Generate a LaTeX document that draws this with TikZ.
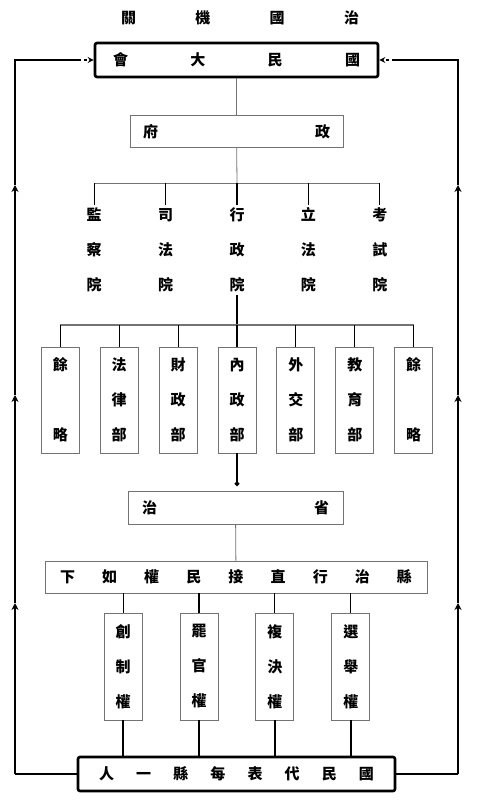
\documentclass[tikz,border=0pt]{standalone}
\usepackage{fontspec}
\newfontfamily\cjk{Noto Sans CJK TC}
\usetikzlibrary{positioning, arrows.meta}

\begin{document}
\begin{tikzpicture}[x=1pt, y=-1pt,
        node distance=20pt,
        every node/.style={inner sep=0pt, align=center, font=\cjk\bfseries\fontsize{15}{35}\selectfont},
        bigbox/.style={draw, line width=2.6pt, rounded corners=2pt, minimum height=34pt},
        flatbox/.style={draw=black!55, line width=0.9pt, minimum height=32pt},
        tallbox/.style={draw=black!55, line width=0.9pt, minimum width=38pt, minimum height=106pt},
        yuan/.style={inner sep=3pt},
        faint/.style={draw=black!55, line width=0.8pt},
        tick/.style={line width=1.1pt},
        link/.style={line width=1.4pt},
        loop/.style={line width=2.8pt},
        uptip/.style={-{Stealth[length=7pt, width=7pt]}}
    ]

    \useasboundingbox (0,0) rectangle (480,800);

    % Title
    \node (title) at (240,18) {\hbox to 238pt{關\hfill 機\hfill 國\hfill 治}};

    % National assembly and government
    \node[bigbox, minimum width=283pt] (nation) at (236.5,60) {\hbox to 247pt{會\hfill 大\hfill 民\hfill 國}};
    \node[flatbox, minimum width=213pt, below=37pt of nation] (gov) {\hbox to 187pt{府\hfill 政}};
    \draw[faint] (nation) -- (gov);

    % Five yuan
    \coordinate (bar1) at (237,183);
    \node[yuan] (xz) at (237,250) {行\\政\\院};
    \node[yuan, left=50pt of xz] (sf) {司\\法\\院};
    \node[yuan, left=50pt of sf] (jc) {監\\察\\院};
    \node[yuan, right=50pt of xz] (lf) {立\\法\\院};
    \node[yuan, right=50pt of lf] (ks) {考\\試\\院};
    \draw[faint] (gov) -- (bar1);
    \draw[faint] (jc |- bar1) -- (ks |- bar1);
    \draw[tick] (jc |- bar1) -- (jc);
    \draw[tick] (sf |- bar1) -- (sf);
    \draw[tick] (xz |- bar1) -- (xz);
    \draw[tick] (lf |- bar1) -- (lf);
    \draw[tick] (ks |- bar1) -- (ks);

    % Ministries
    \coordinate (bar2) at (237,325);
    \node[tallbox] (nz) at (237,400) {內\\政\\部};
    \node[tallbox, left=of nz] (cz) {財\\政\\部};
    \node[tallbox, left=of cz] (fl) {法\\律\\部};
    \node[tallbox, left=of fl] (yl1) {餘\\[35pt]略};
    \node[tallbox, right=of nz] (wj) {外\\交\\部};
    \node[tallbox, right=of wj] (jy) {教\\育\\部};
    \node[tallbox, right=of jy] (yl2) {餘\\[35pt]略};
    \draw[link] (xz) -- (bar2);
    \draw[faint, line width=1.2pt] (yl1 |- bar2) -- (yl2 |- bar2);
    \draw[tick] (yl1 |- bar2) -- (yl1);
    \draw[tick] (fl |- bar2) -- (fl);
    \draw[tick] (cz |- bar2) -- (cz);
    \draw[tick] (nz |- bar2) -- (nz);
    \draw[tick] (wj |- bar2) -- (wj);
    \draw[tick] (jy |- bar2) -- (jy);
    \draw[tick] (yl2 |- bar2) -- (yl2);

    % Province and county
    \coordinate (dot) at (237,486);
    \node[flatbox, minimum width=215pt, minimum height=33pt] (sheng) at (235.5,507.5) {\hbox to 187pt{治\hfill 省}};
    \draw[link, -{Circle[length=4.5pt]}] (nz) -- (dot);
    \node[flatbox, minimum width=382pt] (xian) at (236,577) {\hbox to 352pt{下\hfill 如\hfill 權\hfill 民\hfill 接\hfill 直\hfill 行\hfill 治\hfill 縣}};
    \draw[faint] (sheng) -- (xian);

    % Four rights
    \node[tallbox, minimum height=107pt] (bg) at (199,666.5) {罷\\官\\權};
    \node[tallbox, minimum height=107pt, left=37pt of bg] (cz2) {創\\制\\權};
    \node[tallbox, minimum height=107pt, right=37pt of bg] (fj) {複\\決\\權};
    \node[tallbox, minimum height=107pt, right=37pt of fj] (xj) {選\\舉\\權};
    \draw[tick] (cz2 |- xian.south) -- (cz2);
    \draw[tick] (bg |- xian.south) -- (bg);
    \draw[tick] (fj |- xian.south) -- (fj);
    \draw[tick] (xj |- xian.south) -- (xj);

    % County delegates
    \node[bigbox, minimum width=317pt] (people) at (236.5,774) {\hbox to 275pt{人\hfill 一\hfill 縣\hfill 每\hfill 表\hfill 代\hfill 民\hfill 國}};
    \draw[link] (cz2) -- (cz2 |- people.north);
    \draw[link] (bg) -- (bg |- people.north);
    \draw[link] (fj) -- (fj |- people.north);
    \draw[link] (xj) -- (xj |- people.north);

    % Feedback loop, left side
    \coordinate (lb) at (15,774);
    \coordinate (l1) at (15,603);
    \coordinate (l2) at (15,395);
    \coordinate (l3) at (15,185);
    \coordinate (lt) at (15,60);
    \coordinate (ld) at (78,60);
    \draw[loop] (people) -- (lb);
    \draw[loop, uptip] (lb) -- (l1);
    \draw[loop, uptip] (l1) -- (l2);
    \draw[loop, uptip] (l2) -- (l3);
    \draw[loop] (l3) -- (lt) -- (ld);
    \draw[link, dashed, -{Stealth[length=6pt, width=6pt]}] (ld) -- (nation);

    % Feedback loop, right side
    \coordinate (rb) at (458,774);
    \coordinate (r1) at (458,603);
    \coordinate (r2) at (458,395);
    \coordinate (r3) at (458,185);
    \coordinate (rt) at (458,60);
    \coordinate (rd) at (395,60);
    \draw[loop] (people) -- (rb);
    \draw[loop, uptip] (rb) -- (r1);
    \draw[loop, uptip] (r1) -- (r2);
    \draw[loop, uptip] (r2) -- (r3);
    \draw[loop] (r3) -- (rt) -- (rd);
    \draw[link, dashed, -{Stealth[length=6pt, width=6pt]}] (rd) -- (nation);

\end{tikzpicture}
\end{document}
